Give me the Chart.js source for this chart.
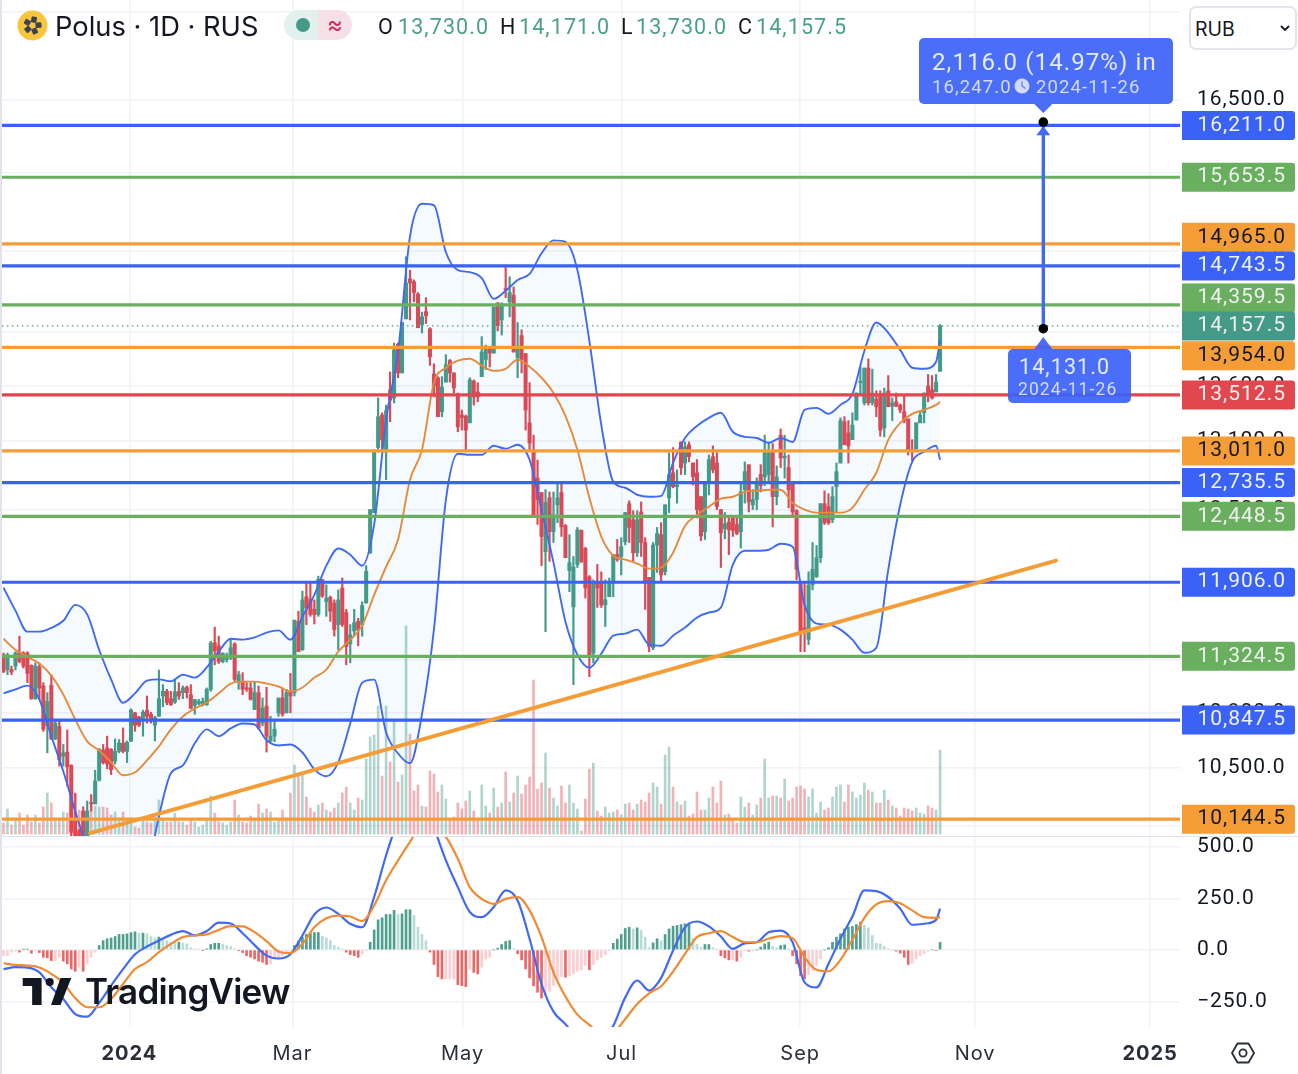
<!DOCTYPE html>
<html>
<head>
<meta charset="utf-8">
<title>Polus 1D RUS</title>
<script src="https://cdn.jsdelivr.net/npm/chart.js@4"></script>
<style>
  html, body { margin: 0; padding: 0; background: #fff; }
  body { position: relative; width: 1298px; height: 1074px; overflow: hidden; font-family: Inter, sans-serif; color: #131722; }
  canvas { position: absolute; left: 0; }
  #priceChart { top: 0; }
  #macdChart { top: 836px; }
  .edge { position: absolute; background: #e0e3eb; }
  .legend { position: absolute; white-space: nowrap; }
  .title { left: 55px; top: 9px; font-size: 27.3px; line-height: 36px; }
  .ohlc { top: 12px; font-family: Roboto, sans-serif; font-size: 21.5px; line-height: 30px; letter-spacing: 1.1px; }
  .ohlc b { font-weight: 400; }
  .val { color: #4a9f8b; }
  .pill { position: absolute; left: 284px; top: 10px; width: 68px; height: 30px; border-radius: 15px; overflow: hidden; }
  .pill i { position: absolute; top: 0; width: 34px; height: 30px; display: block; }
  .pill .dot { position: absolute; left: 12px; top: 8px; width: 14px; height: 14px; border-radius: 50%; background: #449a86; }
  .pill .wave { left: 34px; background: #f6e0e8; color: #cc2f62; font-style: normal; font-size: 24px; line-height: 29px; text-align: center; }
  .currency { position: absolute; left: 1189px; top: 6px; width: 104px; height: 40px; border: 2px solid #e2e5ec; border-radius: 7px; background: #fff; font-size: 19.5px; line-height: 43px; text-indent: 4px; }
  .currency svg { position: absolute; left: 89px; top: 17px; }
  .brand { position: absolute; left: 85px; top: 968px; font-size: 35px; line-height: 46px; font-weight: 600; letter-spacing: -0.8px; color: #131722; }
  .settings { position: absolute; left: 1230px; top: 1040px; }
</style>
</head>
<body>
<canvas id="priceChart" width="1298" height="836"></canvas>
<canvas id="macdChart" width="1298" height="238"></canvas>
<div class="edge" style="left:0;top:0;width:1.5px;height:1074px"></div>
<div class="edge" style="left:0;top:835.5px;width:1298px;height:1.5px"></div>

<svg style="position:absolute;left:17px;top:10px" width="31" height="31" viewBox="0 0 31 31">
  <circle cx="15.5" cy="15.5" r="15" fill="#f8c53f"/>
  <g fill="#3d4250">
    <rect x="13" y="6.5" width="5.5" height="6" rx="1" transform="rotate(12 15.5 15.5)"/>
    <rect x="13" y="6.5" width="5.5" height="6" rx="1" transform="rotate(84 15.5 15.5)"/>
    <rect x="13" y="6.5" width="5.5" height="6" rx="1" transform="rotate(156 15.5 15.5)"/>
    <rect x="13" y="6.5" width="5.5" height="6" rx="1" transform="rotate(228 15.5 15.5)"/>
    <rect x="13" y="6.5" width="5.5" height="6" rx="1" transform="rotate(300 15.5 15.5)"/>
  </g>
</svg>
<div class="legend title">Polus · 1D · RUS</div>
<div class="pill">
  <i style="left:0;background:#e3f1ee"><span class="dot"></span></i>
  <i class="wave">≈</i>
</div>
<div class="legend ohlc" style="left:378px"><b>O</b></div>
<div class="legend ohlc val" style="left:398px">13,730.0</div>
<div class="legend ohlc" style="left:500px"><b>H</b></div>
<div class="legend ohlc val" style="left:519px">14,171.0</div>
<div class="legend ohlc" style="left:621px"><b>L</b></div>
<div class="legend ohlc val" style="left:636px">13,730.0</div>
<div class="legend ohlc" style="left:738px"><b>C</b></div>
<div class="legend ohlc val" style="left:756px">14,157.5</div>
<div class="currency">RUB
  <svg width="10" height="7" viewBox="0 0 10 7"><path d="M1 1l4 4 4-4" fill="none" stroke="#131722" stroke-width="1.8"/></svg>
</div>
<svg style="position:absolute;left:22px;top:978px" width="50" height="27" viewBox="0 6 36 20">
  <path d="M14 6H0v6h7v14h7V6Zm14 20h-7l7-20h8l-8 20Z" fill="#131722"/>
  <circle cx="20" cy="9" r="3" fill="#131722"/>
</svg>
<div class="brand">TradingView</div>
<svg class="settings" width="26" height="26" viewBox="0 0 26 26">
  <path d="M7.5 3.5h11l5.5 9.5-5.5 9.5h-11L2 13z" fill="none" stroke="#2a2e39" stroke-width="1.8" stroke-linejoin="round"/>
  <circle cx="13" cy="13" r="3.6" fill="none" stroke="#2a2e39" stroke-width="1.8"/>
</svg>

<script>
// Daily candles, oldest first
const opens = [
  11335,11225,11225,11250,11355,11350,11350,11255,11005,11245,
  11100,10805,11105,10710,10800,10585,10615,10520,10145,10065,
  10200,10010,10260,10250,10415,10630,10645,10635,10550,10620,
  10680,10620,10695,10900,10870,10850,10920,10890,10810,10875,
  11025,11060,11005,10980,11060,11050,11090,11035,10955,10970,
  10960,10960,11075,11430,11405,11285,11300,11310,11420,11135,
  11135,11085,11085,10925,11050,10825,10950,10695,10730,10900,
  11010,10900,11060,11050,11595,11375,11790,11770,11690,11650,
  11925,11750,11785,11740,11570,11860,11665,11420,11520,11595,
  11570,11740,12145,12480,13040,13330,13000,13560,13485,13985,
  13715,14225,14615,14585,14465,14170,14295,14130,13705,13670,
  13360,13630,13830,13715,13520,13330,13320,13260,13640,13540,
  13680,13840,13950,13900,14380,14215,14515,14390,14455,13855,
  14065,13895,13260,13020,12775,12650,12155,12605,12320,12545,
  12650,12370,12000,11710,12050,12330,12180,11950,11350,11900,
  11910,11725,11790,11900,12130,12115,12235,12555,12420,12145,
  12485,12230,11945,11390,12210,12295,11990,12605,12820,12700,
  13090,12905,13065,12905,12820,12615,12320,12745,12960,12905,
  12505,12345,12400,12435,12380,12320,12675,12890,12545,12590,
  12805,12785,12805,12995,12615,13150,12950,12865,12735,12495,
  11900,11545,11455,11885,11950,12105,12555,12530,12420,12700,
  12905,13270,13170,13110,13285,13625,13440,13760,13440,13475,
  13510,13215,13550,13410,13450,13420,13360,13295,13020,13030,
  13260,13350,13595,13560,13540,13730,
];
const highs = [
  11350,11350,11250,11360,11480,11360,11360,11260,11275,11275,
  11125,11050,11185,10850,10850,10670,10775,10525,10325,10075,
  10230,10270,10315,10485,10640,10670,10730,10640,10710,10705,
  10790,10695,10930,10905,10875,10920,11025,10905,10875,11220,
  11110,11075,11060,11145,11125,11100,11100,11110,11000,11000,
  11010,11085,11440,11550,11480,11350,11350,11460,11430,11210,
  11200,11125,11125,11135,11100,11010,11090,10875,10850,11010,
  11085,11075,11195,11605,11675,11835,11900,11900,11765,11955,
  11930,11885,11795,11765,11845,11940,11690,11570,11690,11620,
  11750,12040,12505,13000,13485,13350,13420,13725,13995,13995,
  14190,14835,14700,14605,14480,14290,14430,14140,13800,13680,
  13680,13885,13840,13715,13530,13375,13330,13670,13650,13625,
  14055,13975,13950,14340,14380,14380,14750,14635,14535,14190,
  14120,13895,13625,13150,12930,12650,12675,12655,12655,12745,
  12745,12380,12295,12115,12355,12335,12190,11960,11925,12050,
  11990,11925,11940,12130,12255,12270,12480,12580,12495,12495,
  12570,12270,11945,12230,12355,12395,12545,12995,13040,12845,
  13090,13090,13090,12905,12935,12615,12745,12975,13055,12995,
  12505,12480,12435,12445,12445,12735,12915,12890,12675,12775,
  12890,13150,13090,13075,12880,13205,13150,12975,12735,12505,
  11910,11900,11990,12230,12205,12555,12665,12640,12700,12905,
  13305,13315,13280,13350,13530,13770,13760,13845,13750,13550,
  13550,13575,13690,13485,13530,13430,13505,13295,13110,13260,
  13360,13530,13700,13690,13700,14171,
];
const lows = [
  11200,11185,11185,11220,11275,11235,11125,11000,11000,11000,
  10765,10610,10705,10705,10515,10515,10375,10010,10000,10000,
  10000,10000,10200,10250,10410,10530,10495,10455,10530,10610,
  10610,10540,10690,10765,10800,10730,10825,10825,10695,10875,
  10945,10960,10955,10970,11000,11005,11010,10930,10890,10960,
  10950,10955,11060,11260,11270,11275,11280,11300,11135,11075,
  11035,11060,10995,10925,10780,10805,10615,10685,10690,10875,
  10875,10900,10900,11025,11360,11370,11570,11635,11575,11635,
  11785,11635,11595,11480,11375,11555,11260,11275,11480,11405,
  11480,11740,12140,12480,13000,13020,12760,13270,13440,13670,
  13715,14225,14215,14390,14140,14090,14180,13785,13495,13315,
  13315,13630,13630,13530,13180,13195,13020,13260,13420,13450,
  13680,13745,13770,13900,14110,14070,14430,14245,13910,13670,
  13715,13195,13020,12445,12380,12040,11515,12075,12230,12395,
  12280,12105,11830,11110,12025,12065,11780,11170,11275,11705,
  11705,11555,11790,11790,12075,11965,12210,12230,12075,12115,
  12115,11690,11360,11375,11985,11910,11965,12480,12690,12560,
  12805,12805,12915,12715,12435,12245,12255,12630,12820,12505,
  12025,12260,12130,12280,12295,12185,12560,12485,12505,12505,
  12655,12710,12735,12360,12545,12865,12775,12520,12445,11925,
  11360,11360,11415,11845,11945,12065,12380,12380,12395,12480,
  12905,13065,12905,13110,13285,13520,13420,13420,13420,13315,
  13140,13135,13405,13280,13405,13350,13260,12975,12925,13020,
  13260,13260,13450,13475,13540,13730,
];
const closes = [
  11210,11335,11205,11350,11285,11250,11195,11005,11250,11085,
  10780,10985,10710,10825,10560,10610,10510,10055,10010,10010,
  10010,10200,10250,10410,10635,10540,10530,10490,10620,10680,
  10620,10685,10920,10810,10810,10905,10875,10855,10865,11005,
  11060,10975,10960,11055,11025,11085,11050,10935,11000,10985,
  10985,11075,11425,11365,11285,11350,11325,11390,11150,11185,
  11075,11075,11000,11050,10790,10935,10730,10730,10780,11010,
  10890,11050,11025,11605,11360,11765,11700,11650,11650,11930,
  11795,11780,11675,11530,11765,11570,11400,11490,11585,11530,
  11720,11995,12505,13000,13315,13110,13370,13465,13930,13715,
  14190,14575,14575,14480,14140,14245,14255,13865,13595,13315,
  13585,13790,13715,13575,13225,13305,13195,13650,13495,13495,
  13910,13960,13900,14340,14160,14370,14505,14480,13910,13940,
  13840,13375,13080,12445,12590,12280,12565,12320,12460,12605,
  12360,12105,12065,12030,12335,12075,11860,11320,11910,11860,
  11725,11765,11900,12130,12090,12195,12480,12355,12145,12420,
  12230,11900,11400,12210,12305,11965,12545,12805,12700,12715,
  12865,13045,12960,12785,12505,12285,12745,12935,12845,12530,
  12310,12385,12335,12330,12305,12655,12830,12570,12590,12735,
  12710,12995,12995,12615,12785,12950,12960,12675,12485,12010,
  11510,11510,11885,12010,12105,12555,12395,12395,12615,12830,
  13280,13065,13055,13240,13530,13630,13760,13440,13530,13405,
  13195,13530,13405,13440,13410,13375,13280,13020,13010,13260,
  13330,13530,13510,13485,13630,14157.5,
];
const volumes = [
  11,25,9,16,21,9,19,12,19,11,
  27,41,31,16,16,22,21,24,40,24,
  22,24,29,28,27,27,26,19,22,16,
  22,12,16,7,6,14,12,11,18,34,
  16,12,12,21,12,12,9,14,12,7,
  9,14,38,21,12,11,9,12,34,19,
  12,11,18,14,30,21,25,22,12,14,
  24,16,41,
  69,61,61,37,26,22,29,31,24,22,
  26,31,41,47,31,24,36,34,75,97,
  99,128,58,128,72,114,52,59,208,100,
  43,49,28,27,63,60,42,49,35,14,
  17,31,25,33,43,23,14,49,28,21,
  46,27,31,62,32,41,58,40,49,57,
  154,45,51,81,46,36,28,48,31,49,
  31,25,3,35,65,71,23,18,27,21,
  22,24,
  19,30,31,24,30,34,32,41,51,47,
  30,79,87,47,32,29,33,18,20,42,
  24,24,36,47,31,53,19,20,15,11,
  37,27,31,19,29,36,75,36,38,38,
  36,55,33,36,47,48,45,37,45,21,
  32,24,26,37,47,49,32,49,42,36,
  39,51,44,42,31,31,44,34,28,26,
  18,26,25,23,26,21,20,28,26,24,
  84,
];

// Bollinger bands and MACD lines, read every third bar
const bandBars = [
  0,3,6,9,12,15,18,21,24,27,30,33,36,39,42,45,48,51,54,57,
  60,63,66,69,72,75,78,81,84,87,90,93,96,99,102,105,108,111,114,117,
  120,123,126,129,132,135,138,141,144,147,150,153,156,159,162,165,168,171,174,177,
  180,183,186,189,192,195,198,201,204,207,210,213,216,219,222,225,228,231,234,235,
];
const bandUpper = [
  11863,11680,11515,11515,11545,11600,11725,11650,11375,11150,
  10975,11045,11140,11150,11135,11185,11163,11240,11360,11460,
  11453,11470,11508,11525,11453,11632,11805,12040,12180,12130,
  12040,12380,13287,13912,15040,15375,15360,14880,14702,14682,
  14623,14420,14497,14604,14663,14870,15000,14985,14702,14016,
  13240,12743,12691,12631,12614,12622,12907,13125,13232,13305,
  13350,13180,13135,13125,13082,13125,13090,13377,13395,13341,
  13422,13522,13920,14190,14092,13930,13763,13753,13819,14026,
];
const bandLower = [
  11045,11074,11103,10999,10730,10478,10200,9942,9710,9580,
  9515,9580,9775,10165,10464,10520,10678,10779,10730,10786,
  10822,10815,10700,10663,10670,10612,10492,10443,10542,10822,
  11125,11148,10757,10605,10535,10889,11531,12588,12986,12977,
  12977,13056,13030,13065,12933,12504,12065,11593,11337,11238,
  11345,11484,11500,11531,11414,11406,11484,11547,11625,11665,
  11704,12049,12162,12162,12170,12220,12195,11726,11578,11570,
  11531,11453,11352,11390,12008,12546,12915,13003,13056,12933,
];
const bandBasis = [
  11460,11375,11322,11269,11178,11036,10852,10692,10627,10542,
  10450,10471,10556,10656,10779,10874,10932,10977,11045,11118,
  11133,11133,11118,11096,11059,11089,11163,11223,11360,11453,
  11562,11805,12032,12254,12760,13021,13623,13763,13829,13847,
  13782,13735,13753,13838,13772,13670,13531,13323,13021,12605,
  12279,12121,12089,12057,12016,12024,12146,12370,12460,12530,
  12597,12614,12657,12665,12674,12674,12563,12504,12479,12479,
  12479,12520,12674,12820,13108,13260,13341,13377,13422,13449,
];
const macdLine = [
  -94,-84,-86,-109,-182,-239,-312,-325,-258,-174,
  -94,-21,16,45,73,91,70,91,132,128,
  81,23,-28,-42,-21,70,172,206,175,127,
  110,257,460,630,744,776,598,435,305,184,
  159,208,289,240,54,-166,-300,-361,-434,-490,
  -442,-369,-231,-149,-198,-136,-3,110,138,114,
  65,5,32,37,86,94,37,-158,-182,-68,
  54,162,289,286,257,200,122,127,146,200,
];
const signalLine = [
  -65,-73,-76,-86,-117,-161,-234,-279,-279,-239,
  -166,-93,-60,-11,29,62,70,75,97,115,
  114,86,42,-8,-16,29,110,154,166,162,
  140,216,338,435,525,606,590,549,443,305,
  248,224,248,257,192,62,-109,-227,-315,-365,
  -409,-401,-336,-263,-211,-177,-106,-19,62,81,
  91,62,37,37,55,67,57,-36,-97,-104,
  -49,49,156,221,237,227,192,159,156,159,
];
const histogram = [
  -28,-28,-11,-6,-11,3,3,-16,-3,-13,
  -36,-39,-52,-52,-36,-55,-68,-93,-104,-84,
  -104,-68,-36,-11,21,45,54,58,65,75,
  75,78,84,88,81,81,78,65,58,62,
  54,45,37,36,37,32,29,10,5,3,
  -3,5,26,32,32,26,21,16,5,-3,
  -13,-28,-36,-44,-55,-60,-71,-68,-44,-36,
  -28,-11,-6,21,42,62,75,81,84,84,
  65,58,45,21,13,5,-11,-23,-28,-36,
  -19,-3,37,97,146,156,172,172,192,172,
  175,195,195,167,110,75,45,-11,-71,-130,
  -141,-141,-141,-141,-169,-174,-179,-93,-109,-117,
  -84,-44,-36,0,8,26,41,45,5,-19,
  -49,-93,-136,-175,-206,-234,-222,-201,-174,-141,
  -130,-133,-125,-117,-104,-97,-76,-97,-71,-49,
  -36,-23,-3,32,52,75,104,110,102,107,
  94,62,10,34,54,45,75,102,115,119,
  123,127,130,57,26,13,26,26,10,3,
  -28,-39,-49,-49,-55,-36,-3,-6,-5,0,
  13,29,37,16,10,21,24,2,-28,-68,
  -125,-141,-122,-100,-76,-44,0,10,37,62,
  78,102,110,114,123,135,119,107,70,32,
  29,16,5,0,-6,-16,-36,-71,-65,-44,
  -28,-19,-6,0,-3,36,
];

// Horizontal levels, trend line and the projection drawn on the chart
const levels = [16211, 15653.5, 14965, 14743.5, 14359.5, 13954, 13512.5, 13011, 12735.5, 12448.5, 11906, 11324.5, 10847.5, 10144.5];
const lastPrice = 14157.5;
const trendBars = [21.7, 264.1];
const trendPrices = [10050, 12081];
const arrowBar = 260.9;
const arrowPrices = [14131, 16247];

// Axis ticks
const priceTicks = [17500, 16500, 15700, 14900, 14100, 13600, 13100, 12500, 11900, 11300, 10900, 10500, 10100];
const macdTicks = [500, 250, 0, -250];
const timeTicks = [31.6, 72.5, 115.2, 155.1, 199.9, 243.8, 287.7];
const timeLabels = ["2024", "Mar", "May", "Jul", "Sep", "Nov", "2025"];

const BLUE = "#3b62f6", GREEN = "#6aae60", ORANGE = "#f49d37", RED = "#e2474f", TEAL = "#449a86";
const GRID = "#f1f2f5", LINE_BLUE = "#4169f2", LINE_ORANGE = "#f08a33";
const FONT = "Inter, sans-serif", NUM_FONT = "Roboto, sans-serif";

const levelColors = [BLUE, GREEN, ORANGE, BLUE, GREEN, ORANGE, RED, ORANGE, BLUE, GREEN, BLUE, GREEN, BLUE, ORANGE];
// Labels that TradingView pushes apart when they would overlap
const badgeShift = { 14965: -6.5, 14359.5: -7, 13954: 8.5 };

const X_MIN = -0.878, X_MAX = 295.2, AXIS_WIDTH = 118;

const bars = opens.map((_, i) => i);
const isUp = (i) => closes[i] >= opens[i];
const money = (v) => (v < 0 ? "\u2212" : "") + Math.abs(v).toLocaleString("en-US", { minimumFractionDigits: 1, maximumFractionDigits: 1 });

function linePoints(xs, ys) {
  return xs.map((x, i) => ({ x: x, y: ys[i] }));
}

function levelDataset(value, color, dash) {
  return {
    type: "line",
    yAxisID: "y",
    data: linePoints([-0.4, X_MAX], [value, value]),
    borderColor: color,
    borderWidth: dash ? 1.2 : 3.2,
    borderDash: dash || [],
    pointRadius: 0,
    order: 2,
  };
}

// Indicator line through the values
function curve(label, xs, ys, color, width, extra) {
  return Object.assign({
    type: "line",
    label: label,
    data: linePoints(xs, ys),
    borderColor: color,
    borderWidth: width,
    cubicInterpolationMode: "monotone",
    pointRadius: 0,
  }, extra);
}

// Chart.js reserves room for half a label at each end, the panes have to touch the edges
function noPadding(scale) {
  scale.paddingTop = scale.paddingBottom = scale.paddingLeft = scale.paddingRight = 0;
}

function xAxis(showLabels) {
  return {
    type: "linear",
    offset: false,
    min: X_MIN,
    max: X_MAX,
    afterBuildTicks: (scale) => { scale.ticks = timeTicks.map((v) => ({ value: v })); },
    afterFit: (scale) => {
      scale.height = showLabels ? 47 : 0;
      noPadding(scale);
    },
    grid: { color: GRID, lineWidth: 1.5, drawTicks: false, offset: false },
    border: { display: false },
    ticks: {
      display: showLabels,
      autoSkip: false,
      maxRotation: 0,
      padding: 15,
      color: "#2a2e39",
      font: (ctx) => {
        const label = timeLabels[ctx.index];
        return { family: FONT, size: 20, weight: label && !isNaN(label) ? 700 : 400 };
      },
      callback: (value) => timeLabels[timeTicks.indexOf(value)],
    },
  };
}

function rightAxis(ticks) {
  return {
    position: "right",
    afterBuildTicks: (scale) => { scale.ticks = ticks.map((v) => ({ value: v })); },
    afterFit: (scale) => {
      scale.width = AXIS_WIDTH;
      noPadding(scale);
    },
    grid: { color: GRID, lineWidth: 1.5, drawTicks: false },
    border: { display: false },
    ticks: {
      autoSkip: false,
      crossAlign: "near",
      padding: 17,
      color: "#131722",
      font: { family: NUM_FONT, size: 21 },
      // the top gridline has no label, it sits under the currency box
      callback: (value) => (value > 17000 ? "" : money(value)),
    },
  };
}

function roundBox(ctx, x, y, w, h, r) {
  ctx.beginPath();
  ctx.roundRect(x, y, w, h, r);
  ctx.fill();
}

const labelSpacing = {
  id: "labelSpacing",
  beforeDraw(chart) { chart.ctx.letterSpacing = "1px"; },
};

// Coloured price labels on the right axis
const priceBadges = {
  id: "priceBadges",
  afterDraw(chart) {
    const ctx = chart.ctx;
    const y = chart.scales.y;
    const list = levels.map((v, i) => ({ v: v, color: levelColors[i] })).concat({ v: lastPrice, color: TEAL });
    ctx.save();
    ctx.font = "21px " + NUM_FONT;
    ctx.letterSpacing = "1px";
    ctx.textAlign = "right";
    ctx.textBaseline = "middle";
    list.forEach((b) => {
      const cy = y.getPixelForValue(b.v) + (badgeShift[b.v] || 0);
      ctx.fillStyle = b.color;
      roundBox(ctx, 1182, cy - 14.5, 113, 29, [0, 3, 3, 0]);
      ctx.fillStyle = b.color === ORANGE ? "#131722" : "#eef3ee";
      ctx.fillText(money(b.v), 1286, cy);
    });
    ctx.restore();
  },
};

// Callouts and arrow head of the price projection
const projection = {
  id: "projection",
  afterDatasetsDraw(chart) {
    const ctx = chart.ctx;
    const cx = chart.scales.x.getPixelForValue(arrowBar);
    const top = chart.scales.y.getPixelForValue(arrowPrices[1]);
    const fill = "rgba(59, 98, 246, 0.92)";
    ctx.save();

    ctx.fillStyle = LINE_BLUE;
    ctx.beginPath();
    ctx.moveTo(cx, top + 4);
    ctx.lineTo(cx + 7, top + 13);
    ctx.lineTo(cx - 7, top + 13);
    ctx.fill();

    ctx.fillStyle = fill;
    roundBox(ctx, 919, 38, 254, 66, 5);
    ctx.beginPath();
    ctx.moveTo(cx - 9, 104);
    ctx.lineTo(cx + 9, 104);
    ctx.lineTo(cx, 113);
    ctx.fill();
    roundBox(ctx, 1008, 349, 123, 54, 5);
    ctx.beginPath();
    ctx.moveTo(cx - 9, 349);
    ctx.lineTo(cx + 9, 349);
    ctx.lineTo(cx, 337);
    ctx.fill();

    ctx.textBaseline = "middle";
    ctx.textAlign = "left";
    ctx.fillStyle = "#e6ebff";
    ctx.letterSpacing = "1.1px";
    ctx.font = "24px " + NUM_FONT;
    ctx.fillText(money(2116) + " (14.97%) in", 932, 64);
    ctx.font = "21.5px " + NUM_FONT;
    ctx.fillText(money(arrowPrices[0]), 1019, 369);
    ctx.fillStyle = "#d3dcff";
    ctx.font = "18.5px " + NUM_FONT;
    ctx.fillText(money(arrowPrices[1]), 932, 88);
    ctx.fillText("2024-11-26", 1036, 88);
    ctx.font = "17.5px " + NUM_FONT;
    ctx.fillText("2024-11-26", 1018, 391);

    // small clock
    ctx.beginPath();
    ctx.arc(1022, 86, 7.5, 0, Math.PI * 2);
    ctx.fill();
    ctx.strokeStyle = "#5f80f7";
    ctx.lineWidth = 1.3;
    ctx.beginPath();
    ctx.moveTo(1022, 81.5);
    ctx.lineTo(1022, 86);
    ctx.lineTo(1025.5, 88.5);
    ctx.stroke();
    ctx.restore();
  },
};

new Chart(document.getElementById("priceChart"), {
  type: "bar",
  plugins: [labelSpacing, priceBadges, projection],
  data: {
    datasets: [
      curve("upper", bandBars, bandUpper, LINE_BLUE, 1.9, {
        yAxisID: "y",
        backgroundColor: "rgba(33, 150, 243, 0.05)",
        fill: "+1",
        order: 4,
      }),
      curve("lower", bandBars, bandLower, LINE_BLUE, 1.9, { yAxisID: "y", order: 4 }),
      curve("basis", bandBars, bandBasis, LINE_ORANGE, 1.9, { yAxisID: "y", order: 4 }),
      {
        label: "volume",
        data: bars.map((i) => ({ x: i, y: volumes[i] })),
        yAxisID: "yVolume",
        backgroundColor: bars.map((i) => (isUp(i) ? "rgba(68, 154, 134, 0.42)" : "rgba(226, 71, 79, 0.42)")),
        barThickness: 2,
        grouped: false,
        order: 9,
      },
      {
        label: "wicks",
        data: bars.map((i) => ({ x: i, y: [lows[i], highs[i]] })),
        yAxisID: "y",
        backgroundColor: bars.map((i) => (isUp(i) ? TEAL : RED)),
        barThickness: 1.5,
        grouped: false,
        order: 6,
      },
      {
        label: "bodies",
        data: bars.map((i) => ({ x: i, y: [opens[i], closes[i]] })),
        yAxisID: "y",
        backgroundColor: bars.map((i) => (isUp(i) ? TEAL : RED)),
        barThickness: 3.4,
        minBarLength: 1.5,
        grouped: false,
        order: 5,
      },
      ...levels.map((v, i) => levelDataset(v, levelColors[i])),
      levelDataset(lastPrice, TEAL, [1.5, 3.5]),
      {
        type: "line",
        label: "trend",
        data: linePoints(trendBars, trendPrices),
        yAxisID: "y",
        borderColor: ORANGE,
        borderWidth: 4,
        borderCapStyle: "round",
        pointRadius: 0,
        order: 1,
      },
      {
        type: "line",
        label: "projection",
        data: linePoints([arrowBar, arrowBar], arrowPrices),
        yAxisID: "y",
        borderColor: LINE_BLUE,
        borderWidth: 3.4,
        pointRadius: 4.8,
        pointBackgroundColor: "#000",
        pointBorderWidth: 0,
        order: 0,
      },
    ],
  },
  options: {
    responsive: false,
    animation: false,
    layout: { padding: 0, autoPadding: false },
    plugins: { legend: { display: false }, tooltip: { enabled: false } },
    scales: {
      x: xAxis(false),
      y: Object.assign(rightAxis(priceTicks), { type: "logarithmic", min: 10030, max: 17645 }),
      yVolume: { display: false, type: "linear", min: -2, max: 834 },
    },
  },
});

new Chart(document.getElementById("macdChart"), {
  type: "bar",
  plugins: [labelSpacing],
  data: {
    datasets: [
      {
        label: "histogram",
        data: bars.map((i) => ({ x: i, y: histogram[i] })),
        backgroundColor: bars.map((i) => {
          const rising = i === 0 || histogram[i] >= histogram[i - 1];
          if (histogram[i] >= 0) return rising ? "#4f9f8e" : "#b8dcd5";
          return rising ? "#fbcdd1" : "#ee6565";
        }),
        barThickness: 2,
        order: 3,
      },
      curve("macd", bandBars, macdLine, LINE_BLUE, 2.2, { order: 2 }),
      curve("signal", bandBars, signalLine, LINE_ORANGE, 2.2, { order: 1 }),
    ],
  },
  options: {
    responsive: false,
    animation: false,
    layout: { padding: 0, autoPadding: false },
    plugins: { legend: { display: false }, tooltip: { enabled: false } },
    scales: {
      x: xAxis(true),
      y: Object.assign(rightAxis(macdTicks), { type: "linear", min: -375, max: 553.6 }),
    },
  },
});
</script>
</body>
</html>
